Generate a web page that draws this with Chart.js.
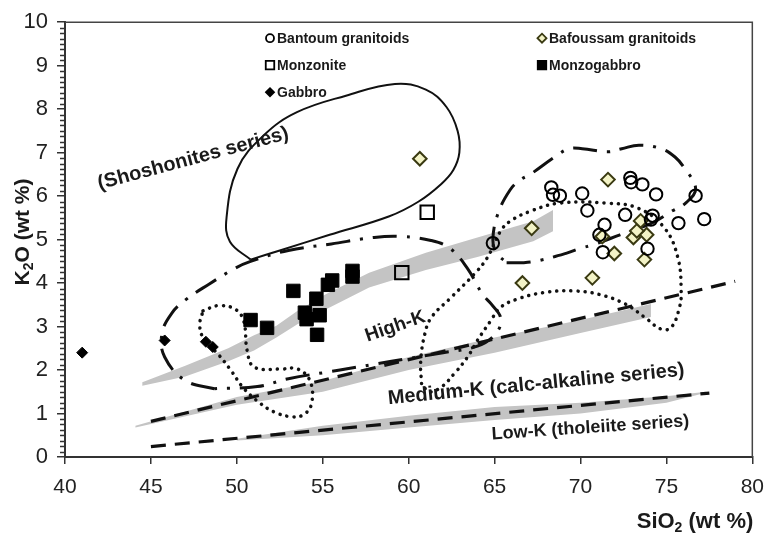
<!DOCTYPE html>
<html><head><meta charset="utf-8">
<script src="https://cdn.jsdelivr.net/npm/chart.js@4.4.0/dist/chart.umd.min.js"></script>
<style>html,body{margin:0;padding:0;background:#fff}#wrap{width:775px;height:538px;position:relative}</style>
</head><body><div id="wrap"><canvas id="c" width="775" height="538"></canvas></div>
<script>
// ---------- DATA ----------
const seriesNames = ['Bantoum granitoids','Bafoussam granitoids','Monzonite','Monzogabbro','Gabbro'];
const xTickValues = [40,45,50,55,60,65,70,75,80];
const yTickValues = [0,1,2,3,4,5,6,7,8,9,10];

const bantoum = [[64.9,4.92],[68.3,6.2],[68.4,6.03],[68.8,6.01],[70.1,6.06],[70.4,5.67],[71.4,5.34],[71.1,5.11],[71.3,4.71],[72.6,5.57],[72.9,6.42],[72.95,6.32],[73.6,6.27],[74.4,6.04],[74.1,5.46],[74.2,5.55],[73.9,4.79],[75.7,5.38],[76.7,6.01],[77.2,5.47]];
const bafoussam = [[60.65,6.86],[67.16,5.26],[66.62,4.0],[70.69,4.12],[71.6,6.38],[71.97,4.68],[71.27,5.07],[73.72,4.54],[73.85,5.11],[73.08,5.05],[73.28,5.2],[73.5,5.43]];
const monzonite = [[59.6,4.24],[61.08,5.63]];
const monzogabbro = [[50.8,3.15],[51.76,2.97],[53.29,3.82],[53.96,3.32],[54.06,3.17],[54.82,3.26],[54.67,2.81],[54.63,3.64],[55.3,3.96],[55.55,4.06],[56.73,4.28],[56.73,4.15]];
const gabbro = [[41,2.4],[45.8,2.68],[48.2,2.65],[48.6,2.53]];

const shoshoniteField = [[50.8,4.54],[49.6,4.95],[49.4,5.5],[50.04,6.63],[51.57,7.4],[53.5,7.93],[56.35,8.31],[59.2,8.58],[61.0,8.45],[62.2,8.05],[62.85,7.5],[62.95,7.0],[62.6,6.6],[61.9,6.28],[60.56,5.87],[58.84,5.53],[55.4,5.11],[52.5,4.75],[50.8,4.54]];
const mafigFieldDashDot = [[48.7,1.57],[47,1.76],[45.8,2.3],[45.64,2.83],[46.2,3.3],[47.07,3.63],[48.4,3.98],[49.94,4.35],[50.8,4.5],[53,4.75],[55.5,4.9],[58,5.05],[59.6,5.07],[61.3,4.98],[62.4,4.8],[63.4,4.35],[64.3,3.74],[64.8,3.52],[65.35,3.2],[65.1,2.85],[64,2.55],[62,2.4],[59,2.2],[56,2.0],[53,1.8],[51.2,1.62],[48.7,1.57]];
const graniteFieldDashDot = [[65.7,4.47],[66.7,4.47],[67.6,4.52],[69.2,4.69],[69.9,4.79],[70.8,4.89],[72.3,5.11],[74.15,5.38],[75.3,5.65],[76.15,5.85],[76.7,6.18],[76.0,6.67],[75.5,6.9],[74.7,7.09],[73.4,7.17],[72.4,7.09],[71.6,7.02],[70.1,7.09],[69.33,7.09],[68.5,6.9],[67.15,6.52],[66.48,6.37],[65.9,6.14],[65.2,5.6],[64.9,5.0],[65.1,4.7],[65.7,4.47]];
const dottedFieldSmall = [[48.03,3.36],[48.9,3.48],[49.9,3.4],[50.4,3.13],[50.6,2.45],[51.0,2.07],[52.5,2.02],[53.5,2.03],[54.25,1.76],[54.35,1.23],[53.87,0.97],[53.1,0.93],[52.15,1.04],[51.38,1.23],[50.4,1.58],[49.66,1.99],[48.9,2.37],[48.13,2.68],[47.84,3.02],[48.03,3.36]];
const dottedFieldLarge = [[60.75,1.69],[60.7,2.2],[60.94,2.83],[61.32,3.21],[62.47,3.67],[63.8,4.2],[64.57,4.58],[65.34,5.19],[65.9,5.42],[67.06,5.65],[68.8,5.84],[71.46,5.84],[73.37,5.72],[74.9,5.26],[75.67,4.58],[75.86,3.82],[75.76,3.44],[75.28,2.98],[74.7,2.94],[73.75,3.21],[72.6,3.52],[71.08,3.74],[69.55,3.82],[67.83,3.78],[66.3,3.63],[65.34,3.44],[64.77,3.13],[64.0,2.68],[63.43,2.3],[62.66,1.92],[61.9,1.61],[61.2,1.5],[60.75,1.69]];
const boundaryMedHigh = [[45,0.82],[79,4.04]];
const boundaryLowMed = [[45,0.24],[77.5,1.47]];
const bandShoshonite = [[44.5,1.72],[47,2.1],[49.5,2.5],[51,2.8],[52.3,3.02],[53.5,3.35],[55.2,3.75],[57.7,4.24],[61,4.7],[64,5.05],[67.25,5.42],[68.4,5.68],[68.4,5.19],[67.25,4.96],[64,4.6],[61,4.3],[57.7,3.9],[55.2,3.4],[53.5,3.05],[52.3,2.75],[51,2.45],[49.5,2.2],[47,1.85],[44.5,1.64]];
const bandMedHigh = [[44.1,0.72],[50,1.38],[55,1.75],[60,2.3],[65,2.75],[70,3.15],[74.1,3.52],[74.1,3.22],[70,2.85],[65,2.4],[60,2.0],[55,1.5],[50,1.2],[44.1,0.68]];
const bandLowMed = [[50,0.42],[55,0.72],[60,0.95],[65,1.15],[70,1.25],[75,1.4],[77.3,1.5],[77.3,1.48],[75,1.25],[70,1.0],[65,0.85],[60,0.68],[55,0.5],[50,0.38]];
const fieldLabels = ['(Shoshonites series)','High-K','Medium-K (calc-alkaline series)','Low-K (tholeiite series)'];

// ---------- PLACEMENT / STYLE ----------
const labelPlacement = [
  {x:47.46, y:6.86, rot:-15, size:20},
  {x:59.22, y:3.0, rot:-19, size:19},
  {x:67.42, y:1.67, rot:-5.5, size:20},
  {x:70.58, y:0.67, rot:-3.8, size:18}
];
const FONT = '"Liberation Sans", Arial, sans-serif';
const pts = a => a.map(([x,y]) => ({x, y}));

const pointStyles = [
  {pointStyle:'circle', pointRadius:6.2, backgroundColor:'rgba(0,0,0,0)', borderColor:'#000', pointBorderWidth:2},
  {pointStyle:'rectRot', pointRadius:6.8, backgroundColor:'#f3f3c6', borderColor:'#3a3a12', pointBorderWidth:2},
  {pointStyle:'rect', pointRadius:9.5, backgroundColor:'rgba(0,0,0,0)', borderColor:'#000', pointBorderWidth:2},
  {pointStyle:'rect', pointRadius:9.5, backgroundColor:'#000', borderColor:'#000', pointBorderWidth:1},
  {pointStyle:'rectRot', pointRadius:5.5, backgroundColor:'#000', borderColor:'#000', pointBorderWidth:1}
];
const seriesData = [bantoum, bafoussam, monzonite, monzogabbro, gabbro];

const pointSets = seriesData.map((d,i) => Object.assign({
  label: seriesNames[i], data: pts(d), showLine:false, pointHoverRadius:0
}, pointStyles[i]));

function curve(d, dash, width, tension){
  return {label:'', data: pts(d), showLine:true, pointRadius:0, borderColor:'#111', borderWidth:width,
    borderDash:dash, borderCapStyle: dash.length===2 && dash[0]<1 ? 'round':'butt', tension:tension, fill:false};
}
function band(d){
  return {label:'', data: pts(d), showLine:true, pointRadius:0, borderColor:'rgba(0,0,0,0)', borderWidth:0,
    backgroundColor:'#c4c4c4', fill:'shape', tension:0};
}
const lineSets = [
  curve(shoshoniteField, [], 2, 0.4),
  curve(mafigFieldDashDot, [24,10,3,10], 3, 0.4),
  curve(graniteFieldDashDot, [24,10,3,10], 3, 0.4),
  curve(dottedFieldSmall, [0.1,7], 3.5, 0.4),
  curve(dottedFieldLarge, [0.1,7], 3.5, 0.4),
  curve(boundaryMedHigh, [15,9], 3.2, 0),
  curve(boundaryLowMed, [15,9], 3.2, 0),
  band(bandShoshonite), band(bandMedHigh), band(bandLowMed)
];

const overlay = {
  id:'overlay',
  afterDraw(chart){
    const {ctx, chartArea:a, scales:{x, y}} = chart;
    ctx.save();
    ctx.strokeStyle = '#444'; ctx.lineWidth = 1.5;
    ctx.beginPath(); ctx.moveTo(a.left, a.top); ctx.lineTo(a.right, a.top); ctx.lineTo(a.right, a.bottom); ctx.stroke();
    ctx.strokeStyle = '#333'; ctx.lineWidth = 1.5;
    for (let k = 0; k <= 80; k++) {
      if (k % 8 === 0) continue;
      const py = Math.round(y.getPixelForValue(k / 8)) + 0.5;
      ctx.beginPath(); ctx.moveTo(a.left - 5, py); ctx.lineTo(a.left, py); ctx.stroke();
    }
    ctx.fillStyle = '#1a1a1a'; ctx.textAlign = 'center'; ctx.textBaseline = 'middle';
    fieldLabels.forEach((t, i) => {
      const p = labelPlacement[i];
      ctx.save();
      ctx.translate(x.getPixelForValue(p.x), y.getPixelForValue(p.y));
      ctx.rotate(p.rot * Math.PI / 180);
      ctx.font = 'bold ' + p.size + 'px ' + FONT;
      ctx.fillText(t, 0, 0);
      ctx.restore();
    });
    const cols = [a.left + 205, a.left + 477];
    const rows = [a.top + 16, a.top + 43, a.top + 70];
    const slots = [[0,0],[1,0],[0,1],[1,1],[0,2]];
    const legR = [4, 4.5, 6, 6, 4];
    ctx.textAlign = 'left'; ctx.textBaseline = 'middle';
    ctx.font = 'bold 14px ' + FONT;
    seriesNames.forEach((name, i) => {
      const [c, r] = slots[i];
      const px = cols[c], py = rows[r];
      const st = pointStyles[i];
      ctx.save();
      ctx.fillStyle = st.backgroundColor; ctx.strokeStyle = st.borderColor;
      ctx.lineWidth = 1.8;
      Chart.helpers.drawPoint(ctx, {pointStyle: st.pointStyle, radius: legR[i], rotation: 0, borderWidth: 1.8}, px, py);
      ctx.restore();
      ctx.fillStyle = '#1a1a1a';
      ctx.fillText(name, px + 7, py + 1);
    });
    ctx.fillStyle = '#1a1a1a';
    drawSub(ctx, [['K',21],['2',14,true],['O (wt %)',21]], 22, 232, -Math.PI/2);
    drawSub(ctx, [['SiO',22],['2',14,true],[' (wt %)',22]], 695, 521, 0);
    ctx.restore();
  }
};
function drawSub(ctx, parts, cx, cy, rot){
  ctx.save();
  ctx.translate(cx, cy); ctx.rotate(rot);
  ctx.textBaseline = 'alphabetic'; ctx.textAlign = 'left';
  let total = 0;
  parts.forEach(p => { ctx.font = 'bold ' + p[1] + 'px ' + FONT; total += ctx.measureText(p[0]).width; });
  let xx = -total / 2;
  parts.forEach(p => {
    ctx.font = 'bold ' + p[1] + 'px ' + FONT;
    ctx.fillText(p[0], xx, p[2] ? 11 : 7);
    xx += ctx.measureText(p[0]).width;
  });
  ctx.restore();
}

new Chart(document.getElementById('c'), {
  type: 'line',
  data: { datasets: pointSets.concat(lineSets) },
  options: {
    responsive: false, animation: false, events: [],
    layout: { padding: { left: 0, right: 13, top: 19, bottom: 0 } },
    plugins: { legend: { display: false }, tooltip: { enabled: false } },
    scales: {
      x: {
        type: 'linear', min: 40, max: 80,
        afterBuildTicks: s => { s.ticks = xTickValues.map(v => ({value: v})); },
        afterFit: s => { s.height = 81; },
        grid: { display: true, drawOnChartArea: false, drawTicks: true, tickLength: 7, color: '#333', lineWidth: 1.5 },
        border: { display: true, color: '#333', width: 2 },
        ticks: { font: { size: 21, family: FONT }, color: '#222', padding: 11, maxRotation: 0 }
      },
      y: {
        type: 'linear', min: 0, max: 10,
        afterBuildTicks: s => { s.ticks = yTickValues.map(v => ({value: v})); },
        afterFit: s => { s.width = 65; },
        grid: { display: true, drawOnChartArea: false, drawTicks: true, tickLength: 8, color: '#333', lineWidth: 1.5 },
        border: { display: true, color: '#333', width: 2 },
        ticks: { font: { size: 22, family: FONT }, color: '#222', padding: 9 }
      }
    }
  },
  plugins: [overlay]
});
</script>
</body></html>
